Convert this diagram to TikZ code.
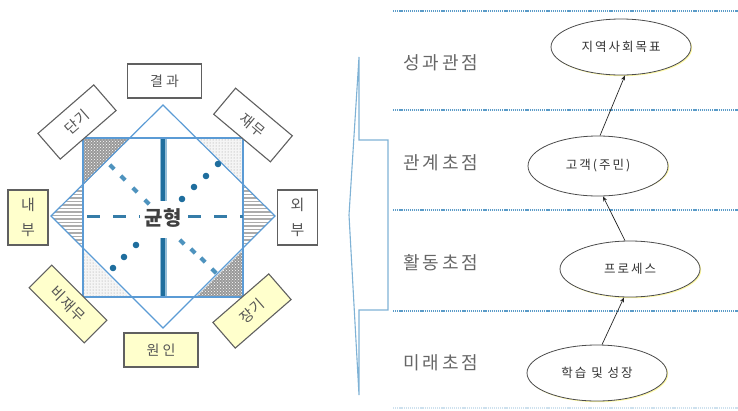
\documentclass[tikz,border=0pt]{standalone}
\usepackage{fontspec}
\newfontfamily\kr{Noto Sans CJK KR}
\newfontfamily\krs[LetterSpace=22]{Noto Sans CJK KR}
\newfontfamily\krr[LetterSpace=8]{Noto Sans CJK KR}
\newfontfamily\krm[LetterSpace=16]{Noto Sans CJK KR}
\usetikzlibrary{patterns,arrows.meta,shapes.geometric}
\definecolor{lblue}{HTML}{5B9BD5}
\definecolor{teal1}{HTML}{1F6E9E}
\definecolor{teal2}{HTML}{4E93BE}
\definecolor{brk}{HTML}{7FB2D5}
\definecolor{dline}{HTML}{5A9BC8}
\definecolor{lyel}{HTML}{FFFFCC}
\definecolor{bgray}{HTML}{606060}
\definecolor{tgray}{HTML}{555555}
\begin{document}
\begin{tikzpicture}[x=1pt,y=-1pt,
  lbl/.style={draw=bgray, line width=1.1pt, fill=white, minimum width=74pt, minimum height=34pt,
    inner sep=0pt, text=tgray, font=\krs\fontsize{14}{14}\selectfont},
  rlbl/.style={lbl, font=\krr\fontsize{14.5}{14.5}\selectfont},
  yl/.style={fill=lyel},
  vlbl/.style={draw=bgray, line width=1.1pt, fill=white, minimum width=40pt, minimum height=55pt,
    inner sep=0pt, text=tgray, align=center, font=\kr\fontsize{15}{25}\selectfont},
  ell/.style={ellipse, draw=black!70, line width=0.8pt, fill=white, minimum width=140pt,
    minimum height=56pt, inner sep=0pt, text=black!80, font=\krm\fontsize{12.5}{12.5}\selectfont},
  rowlbl/.style={anchor=west, inner sep=0pt, text=black!60, font=\krm\fontsize{18}{18}\selectfont},
  sep/.style={dline, line width=1.3pt, dash pattern=on 1.2pt off 0.9pt},
  arr/.style={black!85, line width=0.7pt, -{Stealth[length=5pt,width=4pt]}}
]
\path[use as bounding box] (0,0) rectangle (738,410);

% ---------- left diagram ----------
% corner triangles of the square
\fill[gray!80] (83,138) -- (130,138) -- (83,185) -- cycle;
\fill[pattern=crosshatch dots, pattern color=white] (83,138) -- (130,138) -- (83,185) -- cycle;
\fill[gray!80] (243,297) -- (196,297) -- (243,250) -- cycle;
\fill[pattern=crosshatch dots, pattern color=white] (243,297) -- (196,297) -- (243,250) -- cycle;
\fill[gray!8] (243,138) -- (196,138) -- (243,185) -- cycle;
\fill[pattern=dots, pattern color=gray!80] (243,138) -- (196,138) -- (243,185) -- cycle;
\fill[gray!8] (83,297) -- (130,297) -- (83,250) -- cycle;
\fill[pattern=dots, pattern color=gray!80] (83,297) -- (130,297) -- (83,250) -- cycle;
% side triangles of the diamond (striped)
\begin{scope}
  \clip (83,184) -- (51,216) -- (83,248) -- cycle;
  \foreach \yy in {184,187.5,...,250} \draw[gray!65, line width=1.7pt] (45,\yy) -- (90,\yy);
\end{scope}
\begin{scope}
  \clip (243,184) -- (275,216) -- (243,248) -- cycle;
  \foreach \yy in {184,187.5,...,250} \draw[gray!65, line width=1.7pt] (238,\yy) -- (280,\yy);
\end{scope}
% outlines
\draw[lblue, line width=1.2pt] (83,138) rectangle (243,297);
\draw[lblue, line width=1.2pt] (163,105) -- (275,216) -- (163,328) -- (51,216) -- cycle;
% vertical bar
\draw[teal2!60, line width=7pt] (163,139) -- (163,201);
\draw[teal1, line width=4pt] (163,139) -- (163,201);
\draw[teal2!60, line width=7pt] (163,238) -- (163,296);
\draw[teal1, line width=4pt] (163,238) -- (163,296);
% horizontal dashed
\draw[teal1!90, line width=3pt, dash pattern=on 13pt off 13pt] (87,216) -- (140,216);
\draw[teal1!90, line width=3pt, dash pattern=on 13pt off 13pt] (188,216) -- (243,216);
% diagonal small dashes (TL-BR)
\foreach \px/\py in {112/167,123/178,135/190,147/202,182/242,193/251,203/260,214/271}
  \draw[teal2, line width=4pt] (\px-2.2,\py-2.2) -- (\px+2.2,\py+2.2);
% diagonal dots (TR-BL)
\foreach \px/\py in {218/164,206/176,194/187,182/199,136/245,124/257,113/268}
  \fill[teal1] (\px,\py) circle (3.3);
% centre text
\node[inner sep=1pt, text=black!75, font=\kr\bfseries\fontsize{20}{20}\selectfont] (bal) at (163,218) {균형};

% labels
\node[lbl] (res) at (164.5,81) {결과};
\node[lbl, yl] (cau) at (161,350) {원인};
\node[rlbl, rotate=41] (short) at (77,122) {단기};
\node[rlbl, rotate=-40] (fin) at (253,125) {재무};
\node[rlbl, yl, rotate=-45, minimum width=78pt, minimum height=32pt] (nfin) at (68,304) {비재무};
\node[rlbl, yl, rotate=41] (long) at (252,311) {장기};
\node[vlbl, fill=lyel] (inn) at (28,217.5) {내\\부};
\node[vlbl] (out) at (297.5,217.5) {외\\부};

% ---------- right diagram ----------
\draw[brk, line width=1.1pt, line join=miter]
  (359,57) -- (359,140) -- (388,140) -- (388,310) -- (359,310) -- (359,395) -- (349,215) -- cycle;

\draw[sep] (393,11) -- (738,11);
\draw[sep] (393,110) -- (738,110);
\draw[sep] (393,210) -- (738,210);
\draw[sep] (393,311) -- (738,311);
\draw[dline!30, line width=1.1pt, dash pattern=on 1.2pt off 0.9pt] (393,408) -- (738,408);

\node[rowlbl] (r1) at (403,63) {성과관점};
\node[rowlbl] (r2) at (403,163) {관계초점};
\node[rowlbl] (r3) at (403,263) {활동초점};
\node[rowlbl] (r4) at (403,363) {미래초점};

\foreach \cx/\cy in {621/47,598/166,630/269,597/373}
  \fill[yellow!35!white] (\cx+1.2,\cy+1.2) ellipse (70pt and 28pt);
\node[ell] (e1) at (621,47) {지역사회목표};
\node[ell, minimum height=60pt] (e2) at (598,166) {고객(주민)};
\node[ell] (e3) at (630,269) {프로세스};
\node[ell] (e4) at (597,373) {학습 및 성장};

\draw[arr] ([xshift=2pt]e2.north) -- ([xshift=4pt]e1.south);
\draw[arr] ([xshift=-5pt]e3.north) -- ([xshift=5pt]e2.south);
\draw[arr] ([xshift=5pt]e4.north) -- ([xshift=-6pt]e3.south);
\end{tikzpicture}
\end{document}
